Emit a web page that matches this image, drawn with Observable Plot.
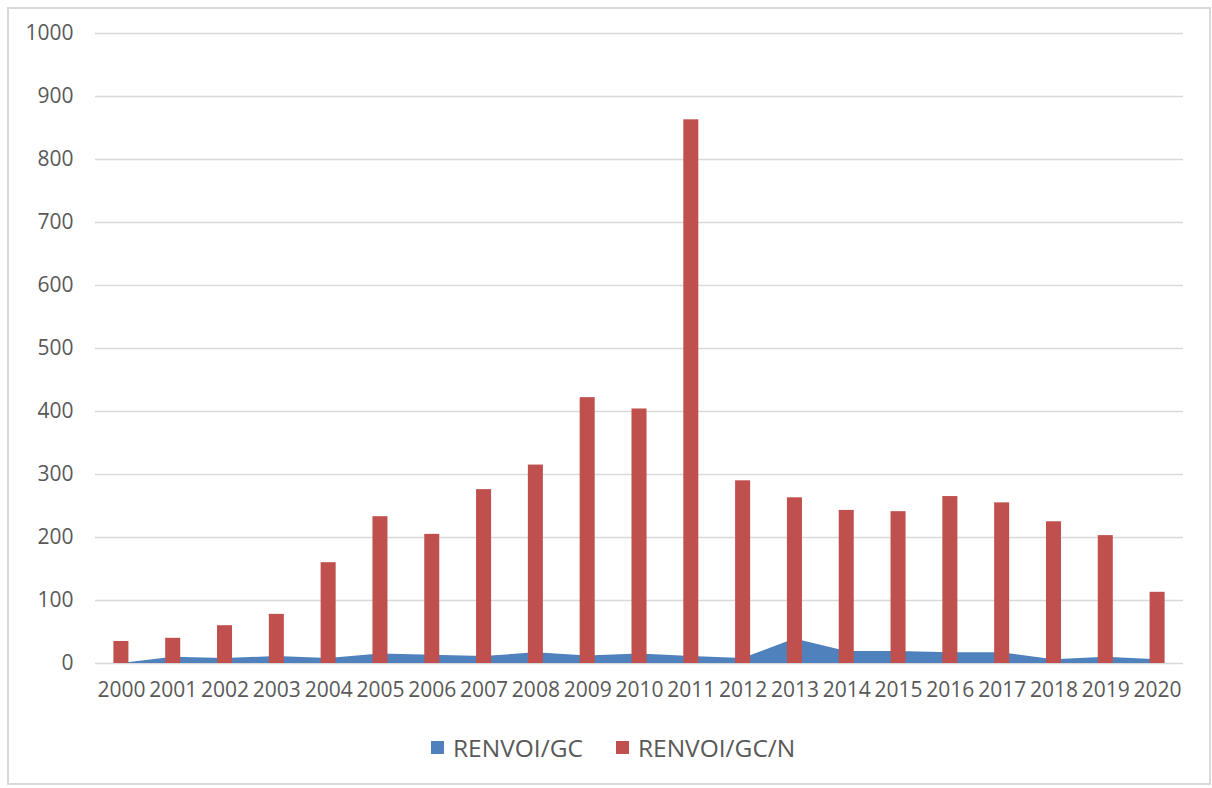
<!DOCTYPE html>
<html><head><meta charset="utf-8">
<script src="https://cdn.jsdelivr.net/npm/d3@7"></script>
<script src="https://cdn.jsdelivr.net/npm/@observablehq/plot@0.6"></script>
<style>
body{margin:0;background:#fff;font-family:"Open Sans",sans-serif;width:1212px;height:788px;overflow:hidden;}
#frame{position:absolute;left:7px;top:7px;width:1200px;height:774px;border:2px solid #d9d9d9;}
#chart{position:absolute;left:0;top:0;}
#legend{position:absolute;top:731px;left:431px;display:flex;align-items:center;font-size:24.5px;color:#595959;white-space:nowrap;}
.sw{display:inline-block;width:13px;height:13px;margin-right:9px;}
.item{display:flex;align-items:center;margin-right:33px;}
</style></head><body>
<div id="frame"></div>
<div id="chart"></div>
<div id="legend"></div>
<script>
const years = [2000,2001,2002,2003,2004,2005,2006,2007,2008,2009,2010,2011,2012,2013,2014,2015,2016,2017,2018,2019,2020];
const renvoiGC = [0,10,8,11,8,15,13,11,17,12,15,11,8,39,19,19,17,17,6,10,6];
const renvoiGCN = [35,40,60,78,160,233,205,276,315,422,404,863,290,263,243,241,265,255,225,203,113];
const yTicks = [0,100,200,300,400,500,600,700,800,900,1000];
const seriesNames = ["RENVOI/GC","RENVOI/GC/N"];
const colors = ["#4f81bd","#c0504d"];

const data = years.map((y,i)=>({year:y, gc:renvoiGC[i], gcn:renvoiGCN[i]}));
const half = 0.145;

const chart = Plot.plot({
  width:1212, height:712,
  marginLeft:95, marginRight:29, marginTop:33, marginBottom:49,
  style:{fontFamily:"Open Sans", fontSize:"21px", color:"#595959", background:"transparent"},
  x:{domain:[1999.5,2020.5]},
  y:{domain:[0,1000]},
  marks:[
    Plot.ruleY(yTicks,{stroke:"#d9d9d9", strokeWidth:1.5}),
    Plot.areaY(data,{x:"year", y:"gc", fill:colors[0]}),
    Plot.rectY(data,{x1:d=>d.year-half, x2:d=>d.year+half, y:"gcn", fill:colors[1]}),
    Plot.axisX({ticks:years, tickFormat:d=>String(d), tickSize:0, tickPadding:19, label:null}),
    Plot.axisY({ticks:yTicks, tickFormat:d=>String(d), tickSize:0, tickPadding:22, label:null})
  ]
});
document.getElementById("chart").appendChild(chart);

const lg = document.getElementById("legend");
seriesNames.forEach((n,i)=>{
  const it = document.createElement("div"); it.className="item";
  const s = document.createElement("span"); s.className="sw"; s.style.background=colors[i];
  const t = document.createElement("span"); t.textContent=n;
  it.appendChild(s); it.appendChild(t); lg.appendChild(it);
});
</script></body></html>
